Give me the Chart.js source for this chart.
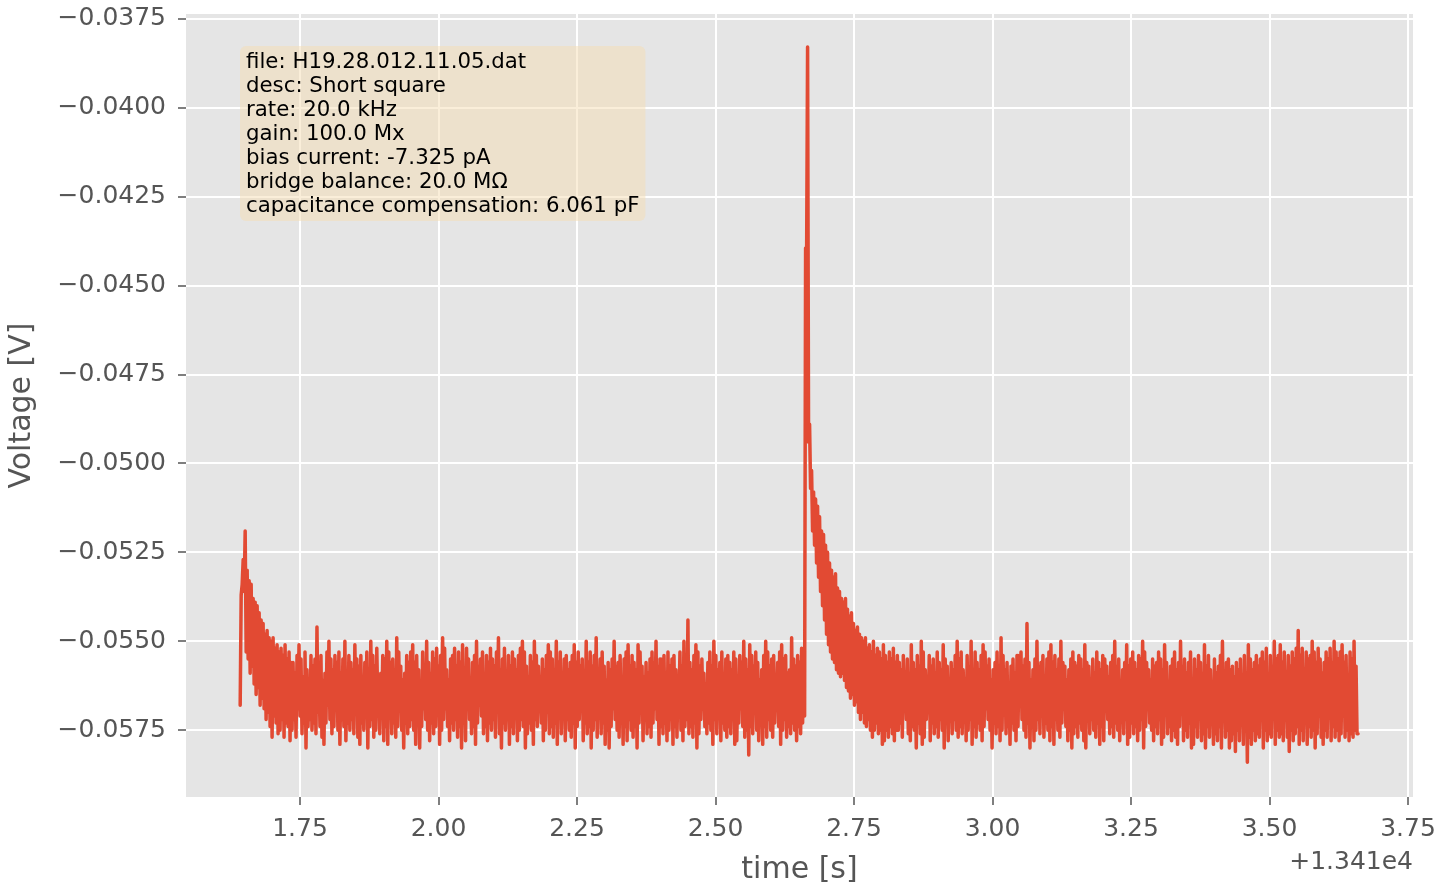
<!DOCTYPE html>
<html>
<head>
<meta charset="utf-8">
<script src="https://cdn.jsdelivr.net/npm/chart.js@4/dist/chart.umd.min.js"></script>
<style>
  html, body { margin: 0; padding: 0; background: #fff; }
  #wrap { width: 1455px; height: 885px; position: relative; }
</style>
</head>
<body>
<div id="wrap"><canvas id="trace"></canvas></div>
<script>
// time axis: seconds, shown with an offset of +1.341e4
const timeOffsetLabel = "+1.341e4";
const tStart = 1.642;      // first bin shown (s, after offset)
const binWidth = 0.0036;   // trace reduced to a low / high pair per bin

// voltage trace in mV, low and high of each bin
const onsetLow = [
	-56.8, -53.4, -53.6, -55.3, -55.5, -55.9, -55.7, -56.2, -56.5, -56.3,
	-56.8, -56.6, -56.9, -57.2, -57.0, -57.4, -57.7, -57.1, -57.3, -57.6,
	-57.5, -57.2, -57.7, -57.3, -57.4, -57.8
];
const onsetHigh = [
	-53.7, -52.7, -51.9, -53.0, -53.3, -53.4, -53.8, -53.9, -54.0, -54.2,
	-54.4, -54.5, -54.8, -54.7, -54.9, -55.0, -54.9, -55.2, -55.1, -55.3,
	-55.2, -55.4, -55.1, -55.5, -55.3, -55.6
];
const beforeLow = [
	-57.5, -57.2, -57.7, -56.9, -57.1, -57.6, -57.3, -58.0, -57.4, -57.2,
	-57.5, -57.3, -57.6, -57.0, -57.4, -57.7, -57.9, -57.3, -56.8, -57.2,
	-57.6, -57.4, -56.9, -57.5, -57.9, -57.2, -57.4, -57.8, -57.3, -57.5,
	-57.2, -57.6, -56.9, -57.7, -57.9, -57.3, -57.5, -57.1, -58.0, -57.4,
	-57.2, -57.7, -57.5, -56.8, -57.6, -57.0, -57.8, -57.4, -57.9, -57.1,
	-57.6, -57.3, -57.7, -57.4, -56.9, -57.5, -58.0, -57.3, -57.6, -57.4,
	-57.2, -57.5, -57.9, -57.3, -58.0, -57.4, -56.9, -57.2, -57.5, -57.8,
	-57.3, -57.6, -57.4, -57.0, -57.9, -57.5, -57.2, -56.9, -57.4, -57.8,
	-57.3, -57.5, -57.2, -57.7, -57.4, -58.0, -57.3, -57.8, -56.9, -57.2,
	-57.6, -57.4, -57.9, -57.3, -56.8, -57.1, -57.6, -57.4, -57.8, -57.3,
	-57.5, -57.2, -57.7, -56.9, -57.6, -58.0, -57.3, -57.5, -57.2, -57.9,
	-57.4, -57.6, -56.9, -57.8, -57.5, -57.2, -57.4, -58.0, -57.6, -57.3,
	-57.5, -57.9, -57.2, -57.4, -56.9, -57.3, -57.8, -57.5, -57.0, -57.6,
	-57.4, -57.7, -57.3, -57.9, -57.1, -57.6, -56.9, -57.8, -57.2, -57.5,
	-57.7, -57.3, -58.0, -57.4, -57.2, -56.9, -57.8, -57.3, -57.6, -57.4,
	-58.0, -57.5, -57.2, -57.7, -56.8, -57.6, -57.3, -57.9, -57.5, -58.0,
	-57.4, -56.9, -57.2, -57.5, -57.7, -57.3, -57.9, -57.4, -57.8, -57.2,
	-57.5, -57.7, -57.4, -58.0, -57.3, -56.9, -57.8, -57.2, -57.6, -57.4,
	-57.7, -57.3, -56.9, -57.2, -57.9, -57.4, -57.6, -57.3, -57.8, -57.5,
	-57.2, -57.9, -57.4, -57.7, -56.8, -57.5, -57.8, -57.4, -57.2, -57.6,
	-57.4, -57.7, -57.3, -58.0, -57.6, -57.2, -56.9, -57.4, -57.6, -57.3,
	-57.5, -57.9, -57.2, -57.6, -56.9, -57.8, -57.3, -57.5, -57.7, -57.4,
	-57.6, -57.2, -57.9, -57.8, -57.3, -56.9, -57.4, -57.7, -57.5, -58.2,
	-57.4, -57.6, -56.9, -57.5, -57.8, -57.3, -57.9, -57.4, -57.7, -57.2,
	-57.5, -57.7, -57.3, -56.9, -57.4, -57.9, -57.5, -57.2, -57.7, -57.4,
	-57.6, -57.3, -57.5, -57.8, -57.4, -57.6, -57.3
];
const beforeHigh = [
	-55.6, -55.9, -55.4, -55.1, -55.5, -56.0, -55.3, -55.8, -56.2, -55.4,
	-55.7, -55.5, -54.6, -55.8, -55.4, -56.1, -55.9, -55.3, -55.0, -55.5,
	-55.8, -55.4, -55.6, -55.3, -55.9, -55.5, -55.0, -56.2, -55.4, -55.6,
	-55.8, -55.1, -55.5, -55.7, -55.4, -56.0, -55.6, -55.3, -55.8, -55.0,
	-55.4, -55.7, -55.2, -56.2, -55.9, -55.4, -55.5, -55.0, -55.3, -55.6,
	-55.5, -55.8, -54.9, -55.3, -55.7, -56.1, -55.9, -55.4, -55.6, -55.3,
	-55.1, -55.6, -55.4, -55.8, -56.2, -55.3, -55.7, -55.0, -55.6, -55.9,
	-55.3, -55.5, -55.2, -55.7, -55.4, -54.9, -55.2, -55.8, -56.1, -55.5,
	-55.4, -55.2, -55.7, -55.3, -55.6, -55.1, -55.8, -55.2, -55.5, -56.2,
	-55.6, -55.4, -55.0, -55.7, -55.5, -55.3, -56.1, -55.4, -55.6, -55.2,
	-55.5, -55.7, -55.3, -54.9, -55.8, -55.5, -55.2, -56.2, -55.4, -55.7,
	-55.3, -55.5, -55.8, -55.4, -55.2, -55.0, -55.3, -55.7, -56.0, -55.4,
	-55.6, -55.0, -55.4, -55.7, -56.2, -55.5, -55.8, -55.4, -55.1, -55.3,
	-55.5, -55.8, -55.0, -55.6, -55.3, -56.1, -55.5, -55.4, -55.8, -55.6,
	-55.4, -55.1, -55.6, -55.3, -55.7, -55.5, -56.2, -55.0, -55.6, -55.3,
	-55.7, -55.4, -54.9, -55.9, -55.5, -55.3, -55.7, -56.1, -55.6, -55.8,
	-55.5, -55.0, -55.7, -55.6, -55.4, -56.2, -55.5, -55.3, -55.1, -55.7,
	-55.4, -55.6, -55.8, -55.1, -55.3, -55.7, -56.0, -55.6, -55.9, -55.5,
	-55.3, -55.6, -55.0, -55.7, -55.5, -55.8, -55.4, -56.2, -55.3, -55.7,
	-55.5, -55.4, -55.8, -56.1, -55.3, -55.7, -55.0, -55.4, -54.4, -55.6,
	-55.8, -55.4, -55.1, -55.3, -55.7, -55.5, -55.9, -56.2, -55.6, -55.3,
	-55.7, -55.0, -55.4, -55.8, -55.6, -55.3, -56.1, -55.5, -55.4, -55.6,
	-55.8, -55.3, -55.5, -56.2, -55.4, -55.6, -55.0, -55.5, -55.8, -55.1,
	-55.4, -55.7, -55.3, -55.6, -56.1, -55.8, -55.4, -55.0, -55.3, -55.7,
	-55.5, -55.4, -56.0, -55.6, -55.3, -55.1, -55.5, -55.4, -55.9, -55.8,
	-54.9, -55.5, -55.7, -55.4, -55.6, -55.2, -55.3
];
const spikeLow = [
	-57.1, -44.3, -49.4, -50.7, -51.9, -52.3, -52.8, -53.2, -53.6, -54.0,
	-54.4, -54.8, -55.1, -55.3, -55.5, -55.6, -55.8, -55.9, -56.0, -55.9,
	-56.1, -56.3, -56.4, -56.6, -56.5, -56.8, -56.7, -57.0, -57.2, -57.0,
	-57.3, -57.4, -57.2, -57.5, -57.7, -57.5, -57.3, -57.6, -57.5, -57.9,
	-57.8, -57.5, -57.7, -57.4, -57.6, -57.8, -57.5
];
const spikeHigh = [
	-43.94, -38.29, -48.9, -50.2, -50.8, -51.0, -51.2, -51.5, -51.9, -52.0,
	-52.3, -52.5, -52.8, -53.0, -53.2, -53.1, -53.5, -53.6, -53.8, -53.9,
	-53.8, -54.1, -54.3, -54.2, -54.5, -54.7, -54.6, -54.8, -54.9, -55.0,
	-54.9, -55.2, -55.1, -55.3, -55.0, -55.4, -55.2, -55.3, -55.5, -55.1,
	-55.4, -55.6, -55.3, -55.5, -55.2, -55.6, -55.4
];
const afterLow = [
	-57.5, -57.3, -57.7, -56.9, -57.2, -57.6, -57.8, -57.4, -57.5, -58.0,
	-57.3, -57.6, -57.9, -57.7, -57.2, -56.9, -57.8, -57.3, -57.6, -57.4,
	-57.7, -57.2, -57.5, -58.0, -57.3, -57.8, -56.9, -57.6, -57.2, -57.5,
	-57.7, -57.4, -57.6, -56.8, -57.8, -57.5, -57.2, -57.9, -57.4, -57.7,
	-57.3, -57.5, -57.8, -57.4, -56.9, -57.2, -57.5, -58.0, -57.3, -57.6,
	-57.4, -57.8, -57.5, -56.9, -57.6, -57.4, -57.9, -57.3, -57.5, -57.8,
	-57.4, -56.8, -57.2, -57.5, -57.7, -57.3, -58.0, -57.4, -57.8, -57.5,
	-57.2, -57.6, -56.9, -57.7, -57.3, -57.5, -57.8, -57.4, -57.9, -57.2,
	-57.5, -57.7, -57.3, -56.9, -57.4, -57.8, -57.5, -58.0, -57.6, -57.4,
	-57.7, -57.3, -57.5, -57.8, -58.0, -56.9, -57.6, -57.2, -57.5, -57.7,
	-57.3, -57.9, -57.4, -57.8, -56.8, -57.2, -57.6, -57.4, -57.7, -57.3,
	-57.5, -57.8, -56.9, -57.6, -57.2, -57.9, -57.7, -57.3, -57.6, -57.4,
	-57.8, -57.5, -57.2, -58.0, -57.4, -56.9, -57.3, -57.5, -57.8, -57.4,
	-57.6, -57.2, -57.9, -57.7, -56.9, -57.6, -57.4, -57.8, -57.5, -57.7,
	-57.9, -57.4, -57.0, -57.8, -57.5, -57.7, -57.3, -58.0, -57.9, -57.4,
	-57.7, -57.0, -57.8, -57.6, -58.0, -57.4, -57.7, -57.1, -57.9, -57.6,
	-57.8, -57.4, -58.0, -57.1, -57.7, -57.5, -58.0, -57.8, -57.6, -58.1,
	-57.5, -57.8, -57.0, -57.9, -57.4, -58.4, -57.7, -57.9, -57.5, -57.8,
	-57.6, -57.7, -57.1, -58.0, -57.5, -57.8, -57.6, -57.7, -57.0, -57.9,
	-57.5, -57.7, -57.6, -57.8, -57.1, -57.7, -58.1, -57.5, -57.8, -57.6,
	-57.4, -57.9, -57.5, -57.8, -57.0, -57.9, -57.4, -57.7, -57.5, -58.0,
	-57.6, -57.1, -57.7, -57.9, -57.5, -57.7, -57.0, -57.8, -57.4, -57.7,
	-57.5, -57.8, -57.6, -57.1, -57.7, -57.5, -57.8, -57.6, -57.7, -57.5,
	-57.6
];
const afterHigh = [
	-55.6, -55.8, -55.4, -56.1, -55.5, -55.9, -55.1, -55.6, -55.8, -55.4,
	-55.7, -55.0, -55.3, -55.8, -56.2, -55.4, -55.7, -55.5, -55.9, -55.3,
	-55.6, -55.8, -55.1, -55.5, -55.7, -56.1, -55.6, -55.8, -55.4, -55.0,
	-55.5, -55.3, -55.8, -56.2, -55.4, -55.7, -55.0, -55.9, -55.3, -55.6,
	-55.8, -55.4, -55.1, -55.3, -55.7, -55.5, -56.1, -55.8, -55.6, -55.3,
	-55.7, -54.9, -55.4, -55.8, -55.6, -56.2, -55.7, -55.5, -55.9, -55.4,
	-55.6, -55.3, -55.7, -55.5, -54.5, -55.6, -56.1, -55.8, -55.5, -55.0,
	-55.7, -55.6, -55.4, -56.2, -55.5, -55.3, -55.1, -55.6, -55.4, -55.8,
	-55.5, -55.0, -55.6, -55.7, -56.1, -55.8, -55.5, -55.3, -55.6, -55.7,
	-55.4, -55.5, -55.8, -55.1, -55.6, -55.7, -56.2, -55.5, -55.9, -55.3,
	-55.6, -55.8, -55.4, -55.5, -55.7, -56.0, -55.6, -55.4, -55.0, -55.7,
	-55.5, -56.2, -55.8, -55.6, -55.1, -55.7, -55.5, -55.3, -55.6, -55.8,
	-55.4, -55.5, -55.0, -55.3, -55.6, -55.8, -56.1, -55.5, -55.7, -55.6,
	-55.3, -55.5, -55.8, -55.1, -55.6, -56.2, -55.7, -55.5, -55.3, -55.8,
	-55.6, -55.0, -55.7, -55.5, -55.9, -55.6, -55.3, -56.1, -55.5, -55.8,
	-55.4, -55.6, -55.9, -55.1, -55.7, -55.4, -55.8, -56.2, -55.5, -55.9,
	-55.7, -55.4, -55.0, -56.0, -55.6, -55.5, -55.8, -55.7, -56.0, -55.6,
	-55.8, -55.5, -56.2, -55.4, -55.9, -55.1, -55.5, -55.8, -55.6, -55.4,
	-55.7, -55.5, -55.3, -55.6, -55.2, -56.1, -55.4, -55.7, -55.0, -55.5,
	-55.4, -55.1, -55.6, -55.3, -56.0, -55.4, -55.7, -55.3, -55.5, -55.2,
	-54.7, -55.4, -55.2, -56.1, -55.3, -55.5, -55.4, -55.0, -55.3, -55.6,
	-55.2, -55.5, -55.9, -55.6, -55.3, -55.5, -55.2, -55.6, -55.0, -55.3,
	-55.5, -55.3, -55.1, -55.6, -55.4, -56.0, -55.3, -55.5, -55.0, -55.7,
	-57.6
];

const xTicks = [1.75, 2.00, 2.25, 2.50, 2.75, 3.00, 3.25, 3.50, 3.75];
const yTicks = [-0.0375, -0.0400, -0.0425, -0.0450, -0.0475, -0.0500, -0.0525, -0.0550, -0.0575];
const xLimits = [1.5442, 3.7590];
const yLimits = [-0.05938, -0.03736];

const infoLines = [
	"file: H19.28.012.11.05.dat",
	"desc: Short square",
	"rate: 20.0 kHz",
	"gain: 100.0 Mx",
	"bias current: -7.325 pA",
	"bridge balance: 20.0 M\u03a9",
	"capacitance compensation: 6.061 pF"
];

const lows = [].concat(onsetLow, beforeLow, spikeLow, afterLow);
const highs = [].concat(onsetHigh, beforeHigh, spikeHigh, afterHigh);
const points = [];
lows.forEach((lo, i) => {
	const t = tStart + i * binWidth;
	points.push({ x: t, y: lo / 1000 });
	points.push({ x: t + binWidth / 2, y: highs[i] / 1000 });
});

Chart.defaults.font.family = "'DejaVu Sans', sans-serif";
Chart.defaults.color = "#555555";

const ggplotPanel = {
	id: "ggplotPanel",
	beforeDraw(chart) {
		const { ctx, chartArea: a } = chart;
		ctx.save();
		ctx.fillStyle = "#E5E5E5";
		ctx.fillRect(a.left, a.top, a.right - a.left, a.bottom - a.top);
		ctx.restore();
	},
	afterDatasetsDraw(chart) {
		const { ctx, chartArea: a } = chart;
		ctx.save();
		// info box
		ctx.font = "21.3px 'DejaVu Sans'";
		const tx = a.left + 60, ty = a.top + 54, lh = 24;
		let w = 0;
		for (const l of infoLines) w = Math.max(w, ctx.measureText(l).width);
		const bx = tx - 6, by = ty - 22, bw = w + 12, bh = lh * (infoLines.length - 1) + 31;
		ctx.fillStyle = "rgba(245, 222, 179, 0.5)";
		ctx.beginPath();
		if (ctx.roundRect) ctx.roundRect(bx, by, bw, bh, 6);
		else ctx.rect(bx, by, bw, bh);
		ctx.fill();
		ctx.fillStyle = "#000";
		ctx.textBaseline = "alphabetic";
		infoLines.forEach((l, i) => ctx.fillText(l, tx, ty + i * lh));
		// x offset text
		ctx.font = "25px 'DejaVu Sans'";
		ctx.fillStyle = "#555555";
		ctx.textAlign = "right";
		ctx.textBaseline = "middle";
		ctx.fillText(timeOffsetLabel, a.right, 862);
		ctx.restore();
	}
};

new Chart(document.getElementById("trace"), {
	type: "line",
	data: {
		datasets: [{
			data: points,
			borderColor: "#E24A33",
			borderWidth: 3.5,
			borderJoinStyle: "round",
			borderCapStyle: "round",
			pointRadius: 0,
			tension: 0,
			fill: false
		}]
	},
	options: {
		responsive: true,
		maintainAspectRatio: false,
		animation: false,
		events: [],
		layout: { padding: { top: 14, right: 42, left: 0, bottom: 0 } },
		plugins: { legend: { display: false }, tooltip: { enabled: false } },
		scales: {
			x: {
				type: "linear",
				min: xLimits[0],
				max: xLimits[1],
				afterFit: (s) => { s.height = 88; s.paddingLeft = 0; s.paddingRight = 0; },
				afterBuildTicks: (s) => { s.ticks = xTicks.map((v) => ({ value: v })); },
				ticks: {
					callback: (v) => v.toFixed(2),
					font: { size: 25 },
					color: "#555555",
					padding: 9,
					maxRotation: 0
				},
				grid: { color: "#ffffff", lineWidth: 2, tickColor: "#555555", tickLength: 8, tickWidth: 1.5 },
				border: { display: false },
				title: { display: true, text: "time [s]", font: { size: 30, lineHeight: 1.0 }, color: "#555555", padding: { top: 0, bottom: 0 } }
			},
			y: {
				type: "linear",
				min: yLimits[0],
				max: yLimits[1],
				afterFit: (s) => { s.width = 186; s.paddingTop = 0; s.paddingBottom = 0; },
				afterBuildTicks: (s) => { s.ticks = yTicks.map((v) => ({ value: v })); },
				ticks: {
					callback: (v) => "\u2212" + Math.abs(v).toFixed(4),
					font: { size: 25 },
					color: "#555555",
					padding: 12
				},
				grid: { color: "#ffffff", lineWidth: 2, tickColor: "#555555", tickLength: 8, tickWidth: 1.5 },
				border: { display: false },
				title: { display: true, text: "Voltage [V]", font: { size: 30 }, color: "#555555", padding: { top: 4, bottom: 0 } }
			}
		}
	},
	plugins: [ggplotPanel]
});
</script>
</body>
</html>
